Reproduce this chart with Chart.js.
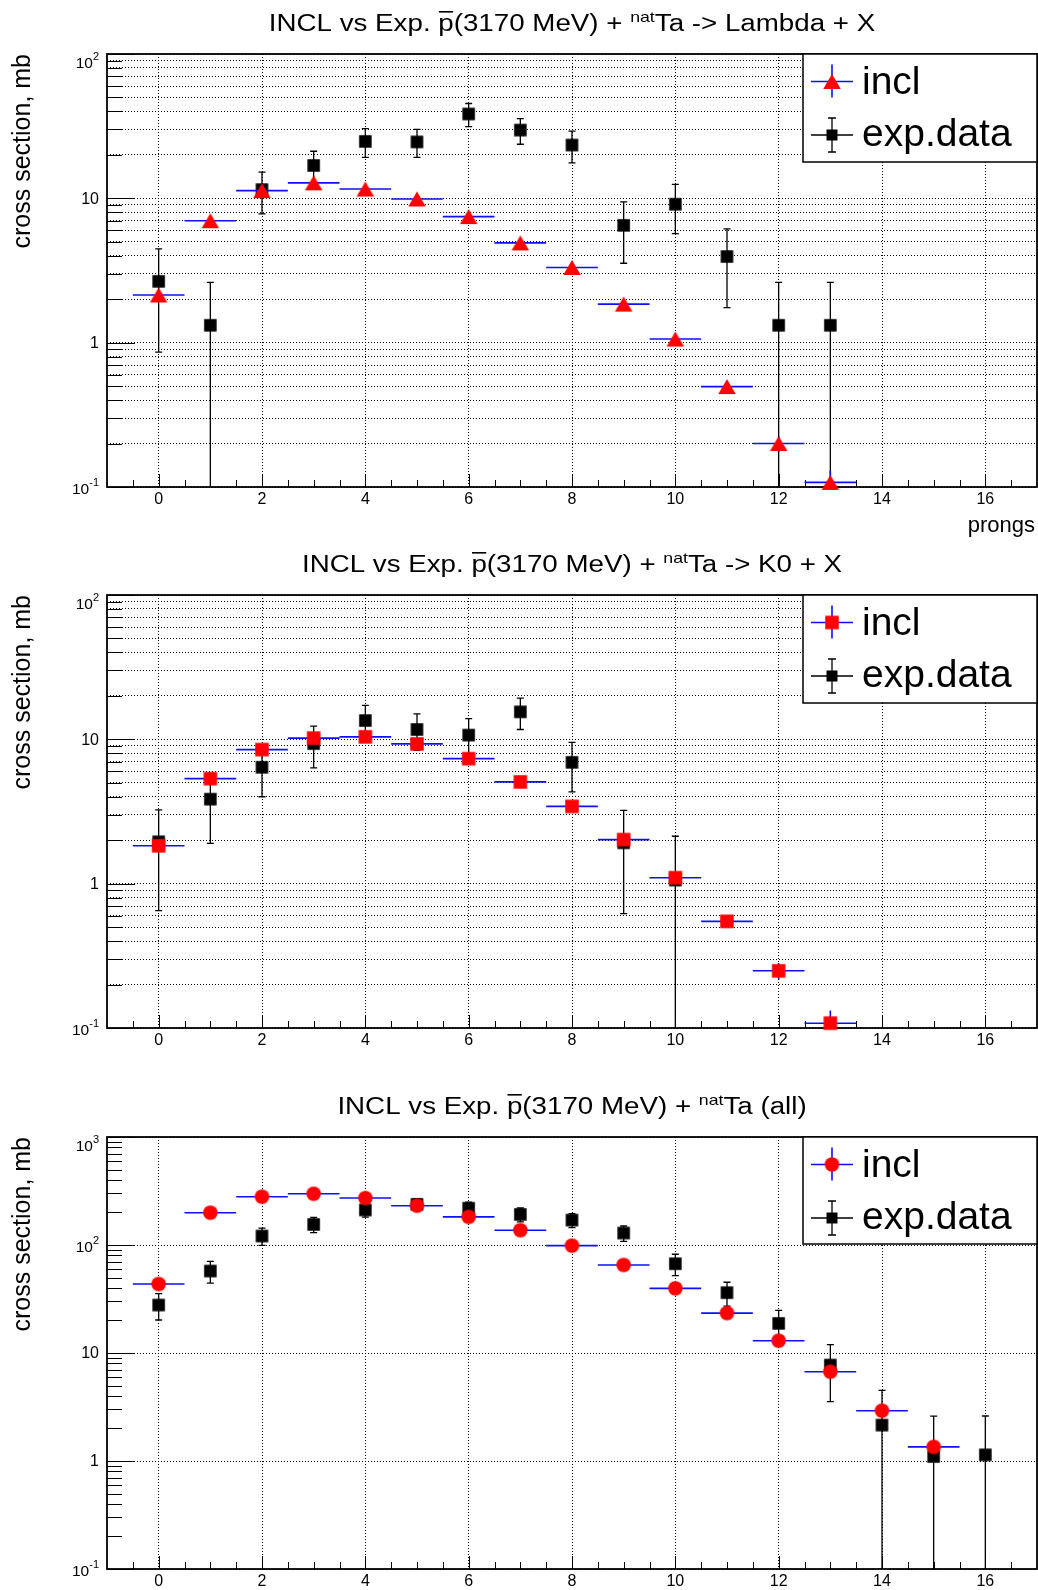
<!DOCTYPE html>
<html>
<head>
<meta charset="utf-8">
<script src="https://cdn.jsdelivr.net/npm/chart.js@4.4.0/dist/chart.umd.min.js"></script>
<style>
  html, body { margin: 0; padding: 0; background: #fff; }
  body { width: 1038px; height: 1590px; position: relative; overflow: hidden; }
  canvas { position: absolute; left: 0; }
</style>
</head>
<body>
<canvas id="lambda" width="1038" height="540" style="top:0"></canvas>
<canvas id="k0" width="1038" height="540" style="top:541px"></canvas>
<canvas id="all" width="1038" height="507" style="top:1083px"></canvas>
<script>
// prong multiplicity bins
const prongs = [0, 1, 2, 3, 4, 5, 6, 7, 8, 9, 10, 11, 12, 13, 14, 15, 16]
const xTickLabels = [0, 2, 4, 6, 8, 10, 12, 14, 16]
const yDecades3 = [0.1, 1, 10, 100]
const yDecades4 = [0.1, 1, 10, 100, 1000]
const logMantissas = [1, 2, 3, 4, 5, 6, 7, 8, 9]

// pbar + Ta -> Lambda + X
const lambdaIncl = [2.14, 7.0, 11.3, 12.8, 11.6, 9.9, 7.47, 4.91, 3.32, 1.85, 1.06, 0.496, 0.200, 0.1076]
const lambdaInclErr = [0.1, 0.15, 0.2, 0.2, 0.2, 0.18, 0.15, 0.12, 0.1, 0.07, 0.05, 0.04, 0.025, 0.022]
const lambdaExp = [2.66, 1.32, 11.5, 16.9, 24.8, 24.6, 38.4, 29.7, 23.4, 6.5, 9.1, 3.95, 1.32, 1.32]
const lambdaExpErr = [1.8, 1.3, 3.7, 4.3, 5.6, 5.4, 7.0, 6.0, 5.8, 2.95, 3.4, 2.2, 1.3, 1.3]

// pbar + Ta -> K0 + X
const k0Incl = [1.83, 5.34, 8.49, 10.2, 10.4, 9.3, 7.35, 5.07, 3.43, 2.02, 1.10, 0.548, 0.249, 0.108]
const k0InclErr = [0.08, 0.15, 0.2, 0.2, 0.2, 0.2, 0.15, 0.12, 0.1, 0.07, 0.05, 0.04, 0.033, 0.024]
const k0Exp = [1.95, 3.85, 6.4, 9.34, 13.5, 11.7, 10.7, 15.5, 6.93, 1.92, 1.06]
const k0ExpErr = [1.3, 1.95, 2.4, 3.0, 3.7, 3.3, 3.2, 3.8, 2.6, 1.3, 1.07]

// pbar + Ta, all events
const allIncl = [43.5, 199, 280, 298, 272, 231, 182, 137, 98.6, 65.3, 39.7, 23.4, 13.0, 6.71, 2.92, 1.35]
const allInclErr = [2, 4, 5, 5, 5, 5, 4, 4, 3, 2.5, 2, 1.5, 1.1, 0.5, 0.3, 0.15]
const allExp = [27.8, 57.4, 121, 155, 211, 238, 219, 192, 170, 129, 67.1, 36.2, 18.8, 7.74, 2.15, 1.10, 1.14]
const allExpErr = [7.6, 13, 22, 25, 30, 30, 30, 28, 25, 21, 15, 9, 6, 4.2, 2.35, 1.5, 1.47]

const FONT = '"Liberation Sans", Arial, Helvetica, sans-serif'
const RED = '#ff0000'
const BLUE = '#0f0fff'
const GRID = '#000'

function marker (shape, w, h, color) {
  const c = document.createElement('canvas')
  c.width = Math.ceil(w) + 2
  c.height = Math.ceil(h) + 2
  const g = c.getContext('2d')
  const cx = c.width / 2
  const cy = c.height / 2
  g.fillStyle = color
  g.beginPath()
  if (shape === 'triangle') {
    g.moveTo(cx, cy - h / 2)
    g.lineTo(cx + w / 2, cy + h / 2)
    g.lineTo(cx - w / 2, cy + h / 2)
    g.closePath()
  } else if (shape === 'circle') {
    g.arc(cx, cy, w / 2, 0, Math.PI * 2)
  } else {
    g.rect(cx - w / 2, cy - h / 2, w, h)
  }
  g.fill()
  return c
}

const isDecade = v => Math.abs(Math.log10(v) - Math.round(Math.log10(v))) < 1e-6

// error bars (and the incl bin widths) are drawn just before each dataset's markers
const errorBars = {
  id: 'errorBars',
  beforeDatasetDraw (chart, { index }) {
    const ds = chart.data.datasets[index]
    const { ctx, chartArea: a, scales: { x, y } } = chart
    ctx.save()
    ctx.beginPath()
    ctx.rect(a.left, a.top, a.right - a.left, a.bottom - a.top)
    ctx.clip()
    ctx.strokeStyle = ds.barColor
    ctx.lineWidth = ds.barWidth
    ctx.beginPath()
    ds.data.forEach((pt, i) => {
      const px = x.getPixelForValue(pt.x)
      const py = y.getPixelForValue(pt.y)
      const err = ds.errors[i]
      const hi = y.getPixelForValue(pt.y + err)
      const lowInside = pt.y - err > y.min
      const lo = lowInside ? y.getPixelForValue(pt.y - err) : a.bottom + 2
      ctx.moveTo(px, hi)
      ctx.lineTo(px, lo)
      if (ds.capHalf) {
        ctx.moveTo(px - ds.capHalf, hi)
        ctx.lineTo(px + ds.capHalf, hi)
        if (lowInside) {
          ctx.moveTo(px - ds.capHalf, lo)
          ctx.lineTo(px + ds.capHalf, lo)
        }
      }
      if (ds.binHalf) {
        ctx.moveTo(x.getPixelForValue(pt.x - ds.binHalf), py)
        ctx.lineTo(x.getPixelForValue(pt.x + ds.binHalf), py)
      }
    })
    ctx.stroke()
    ctx.restore()
  }
}

function drawTitle (ctx, segs, cx, baseline) {
  const sx = 1.18
  const mainFont = `23.5px ${FONT}`
  const supFont = `15px ${FONT}`
  let total = 0
  const widths = segs.map(s => {
    ctx.font = s.sup ? supFont : mainFont
    const w = ctx.measureText(s.text).width
    total += w
    return w
  })
  ctx.save()
  ctx.scale(sx, 1)
  ctx.textAlign = 'left'
  ctx.textBaseline = 'alphabetic'
  let xPos = cx / sx - total / 2
  segs.forEach((s, i) => {
    ctx.font = s.sup ? supFont : mainFont
    ctx.fillText(s.text, xPos, s.sup ? baseline - 9 : baseline)
    if (s.over) ctx.fillRect(xPos + 0.5, baseline - 19.5, widths[i] - 1, 1.6)
    xPos += widths[i]
  })
  ctx.restore()
}

function rootDecor (cfg) {
  return {
    id: 'rootDecor',
    beforeDatasetsDraw (chart) {
      const { ctx, chartArea: a, scales: { x, y } } = chart
      ctx.save()
      ctx.strokeStyle = '#000'
      ctx.fillStyle = '#000'
      ctx.lineWidth = 1
      ctx.beginPath()
      for (let v = -0.5; v <= 16.5; v += 0.5) {
        const px = Math.round(x.getPixelForValue(v)) + 0.5
        const len = v % 2 === 0 ? 13 : 7
        ctx.moveTo(px, a.bottom)
        ctx.lineTo(px, a.bottom - len)
      }
      cfg.yTicks.forEach(v => {
        const py = Math.round(y.getPixelForValue(v)) + 0.5
        const len = isDecade(v) ? 28 : 15
        ctx.moveTo(a.left, py)
        ctx.lineTo(a.left + len, py)
      })
      ctx.stroke()

      ctx.lineWidth = 1.8
      ctx.strokeRect(a.left, a.top, a.right - a.left, a.bottom - a.top)

      // x tick labels
      ctx.font = `16px ${FONT}`
      ctx.textAlign = 'center'
      ctx.textBaseline = 'middle'
      xTickLabels.forEach(v => ctx.fillText(String(v), x.getPixelForValue(v), a.bottom + 12.5))

      // y tick labels, ROOT style powers of ten
      cfg.decades.forEach(d => {
        const py = y.getPixelForValue(d)
        const p = Math.round(Math.log10(d))
        const right = a.left - 8
        if (p === 0 || p === 1) {
          ctx.font = `16px ${FONT}`
          ctx.textAlign = 'right'
          ctx.fillText(p === 0 ? '1' : '10', right, py + 1)
        } else {
          const shift = Math.abs(py - a.top) < 1 ? 7 : 0
          ctx.font = `11px ${FONT}`
          const ex = String(p)
          const we = ctx.measureText(ex).width
          ctx.textAlign = 'right'
          ctx.fillText(ex, right, py - 4.5 + shift)
          ctx.font = `15.5px ${FONT}`
          ctx.fillText('10', right - we, py + 2.5 + shift)
        }
      })

      // y axis title
      ctx.save()
      ctx.translate(30, a.top)
      ctx.rotate(-Math.PI / 2)
      ctx.font = `25px ${FONT}`
      ctx.textAlign = 'right'
      ctx.textBaseline = 'alphabetic'
      ctx.fillText('cross section, mb', 0, 0)
      ctx.restore()

      if (cfg.xTitle) {
        ctx.font = `22px ${FONT}`
        ctx.textAlign = 'right'
        ctx.textBaseline = 'alphabetic'
        ctx.fillText(cfg.xTitle, a.right - 2, a.bottom + 44.5)
      }

      drawTitle(ctx, cfg.title, (a.left + a.right) / 2, a.top - 23.5)
      ctx.restore()
    },
    afterDraw (chart) {
      const { ctx, chartArea: a } = chart
      const x0 = a.right - 234
      const y0 = a.top
      ctx.save()
      ctx.fillStyle = '#fff'
      ctx.fillRect(x0, y0, 234, cfg.legendH)
      ctx.strokeStyle = '#000'
      ctx.lineWidth = 1.5
      ctx.strokeRect(x0, y0, 234, cfg.legendH)

      const mx = a.right - 205
      const r1 = y0 + 27.5
      const r2 = y0 + 81
      ctx.lineWidth = 1.6
      ctx.strokeStyle = BLUE
      ctx.beginPath()
      ctx.moveTo(mx - 21, r1); ctx.lineTo(mx + 21, r1)
      ctx.moveTo(mx, r1 - 17); ctx.lineTo(mx, r1 + 16)
      ctx.stroke()
      const m1 = cfg.inclMarker
      ctx.drawImage(m1, mx - m1.width / 2, r1 - m1.height / 2)

      ctx.lineWidth = 1.3
      ctx.strokeStyle = '#000'
      ctx.beginPath()
      ctx.moveTo(mx - 21, r2); ctx.lineTo(mx + 21, r2)
      ctx.moveTo(mx, r2 - 17); ctx.lineTo(mx, r2 + 17)
      ctx.moveTo(mx - 4, r2 - 17); ctx.lineTo(mx + 4, r2 - 17)
      ctx.moveTo(mx - 4, r2 + 17); ctx.lineTo(mx + 4, r2 + 17)
      ctx.stroke()
      const m2 = cfg.legendExpMarker
      ctx.drawImage(m2, mx - m2.width / 2, r2 - m2.height / 2)

      ctx.fillStyle = '#000'
      ctx.font = `39px ${FONT}`
      ctx.textAlign = 'left'
      ctx.textBaseline = 'alphabetic'
      ctx.fillText('incl', a.right - 175, y0 + 39.5)
      ctx.fillText('exp.data', a.right - 175, y0 + 91.5)
      ctx.restore()
    }
  }
}

function points (values) {
  return values.map((v, i) => ({ x: prongs[i], y: v }))
}

function buildPanel (id, p) {
  const canvas = document.getElementById(id)
  const H = canvas.height
  const yMax = p.decades[p.decades.length - 1]
  const yTicks = []
  p.decades.forEach(d => logMantissas.forEach(m => {
    const v = +(d * m).toPrecision(3)
    if (v <= yMax * 1.0001) yTicks.push(v)
  }))
  const expMarker = marker('square', 12.5, 12.5, '#000')

  return new Chart(canvas, {
    type: 'scatter',
    data: {
      datasets: [
        {
          label: 'incl',
          data: points(p.incl),
          errors: p.inclErr,
          barColor: BLUE,
          barWidth: 1.6,
          binHalf: 0.5,
          pointStyle: p.inclMarker,
          pointRadius: 8,
          pointHoverRadius: 8,
          showLine: false,
          clip: false
        },
        {
          label: 'exp.data',
          data: points(p.exp),
          errors: p.expErr,
          barColor: '#000',
          barWidth: 1.3,
          capHalf: 3.5,
          pointStyle: expMarker,
          pointRadius: 8,
          pointHoverRadius: 8,
          showLine: false,
          clip: false
        }
      ]
    },
    options: {
      responsive: false,
      animation: false,
      events: [],
      layout: { autoPadding: false, padding: { top: 54, right: 1, left: 0, bottom: 0 } },
      plugins: { legend: { display: false }, tooltip: { enabled: false } },
      scales: {
        x: {
          type: 'linear',
          min: -1,
          max: 17,
          afterBuildTicks: s => { s.ticks = xTickLabels.map(v => ({ value: v })) },
          afterFit: s => { s.height = H - 54 - p.plotH },
          ticks: { display: false },
          grid: { color: GRID, lineWidth: 1, drawTicks: false },
          border: { display: false, dash: [1, 2] }
        },
        y: {
          type: 'logarithmic',
          min: 0.1,
          max: yMax,
          afterBuildTicks: s => { s.ticks = yTicks.map(v => ({ value: v })) },
          afterFit: s => { s.width = 107 },
          ticks: { display: false },
          grid: {
            color: c => (p.minorGrid || isDecade(c.tick.value)) ? GRID : 'rgba(0,0,0,0)',
            lineWidth: 1,
            drawTicks: false
          },
          border: { display: false, dash: [1, 2] }
        }
      }
    },
    plugins: [errorBars, rootDecor({
      yTicks,
      decades: p.decades,
      title: p.title,
      xTitle: p.xTitle,
      legendH: p.legendH,
      inclMarker: p.inclMarker,
      legendExpMarker: marker('square', 11, 11, '#000')
    })]
  })
}

const titleHead = [
  { text: 'INCL vs Exp. ' },
  { text: 'p', over: true },
  { text: '(3170 MeV) + ' },
  { text: 'nat', sup: true }
]

buildPanel('lambda', {
  incl: lambdaIncl, inclErr: lambdaInclErr, exp: lambdaExp, expErr: lambdaExpErr,
  inclMarker: marker('triangle', 17.5, 15, RED),
  decades: yDecades3, minorGrid: true, plotH: 433, legendH: 108,
  title: [...titleHead, { text: 'Ta -> Lambda + X' }],
  xTitle: 'prongs'
})

buildPanel('k0', {
  incl: k0Incl, inclErr: k0InclErr, exp: k0Exp, expErr: k0ExpErr,
  inclMarker: marker('square', 13.5, 13.5, RED),
  decades: yDecades3, minorGrid: true, plotH: 433, legendH: 108,
  title: [...titleHead, { text: 'Ta -> K0 + X' }],
  xTitle: null
})

buildPanel('all', {
  incl: allIncl, inclErr: allInclErr, exp: allExp, expErr: allExpErr,
  inclMarker: marker('circle', 14.5, 14.5, RED),
  decades: yDecades4, minorGrid: false, plotH: 432, legendH: 107,
  title: [...titleHead, { text: 'Ta (all)' }],
  xTitle: null
})
</script>
</body>
</html>
